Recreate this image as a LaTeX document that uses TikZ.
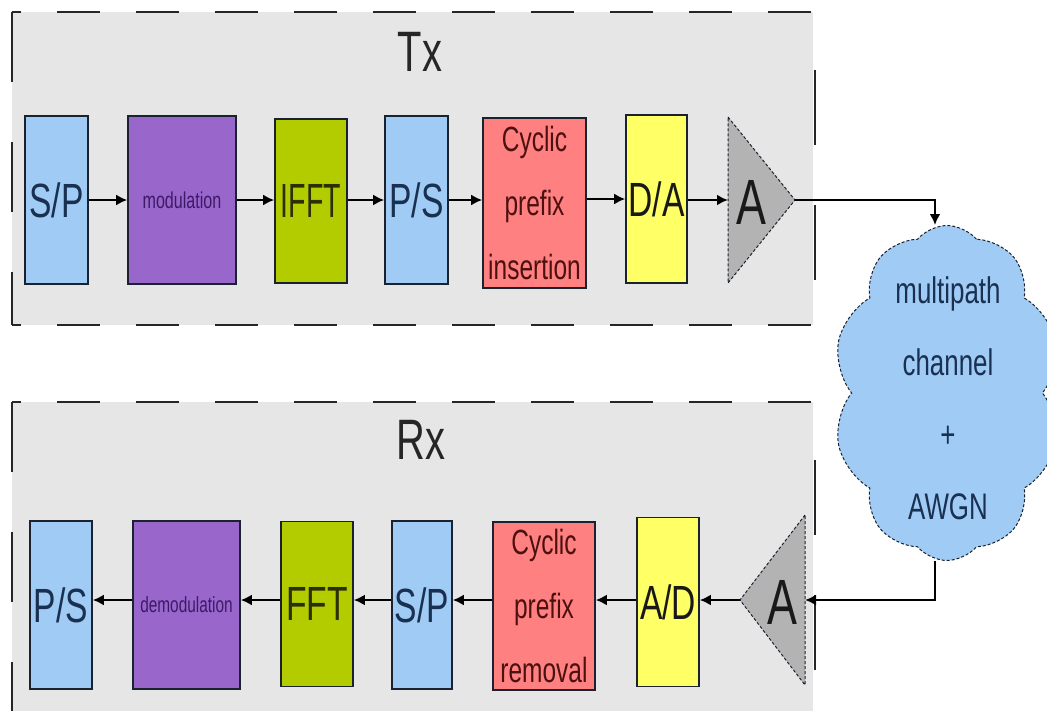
\documentclass[tikz,border=0pt]{standalone}
\usepackage{graphicx}
\usepackage{fontspec}
\setmainfont[FakeStretch=0.7]{Liberation Sans}
\usetikzlibrary{shapes.symbols,arrows.meta}

\definecolor{panel}{HTML}{E6E6E6}
\definecolor{skyblue}{HTML}{9FCBF5}
\definecolor{violet}{HTML}{9966CC}
\definecolor{lime}{HTML}{B3CC00}
\definecolor{salmon}{HTML}{FF8080}
\definecolor{lemon}{HTML}{FFFF66}
\definecolor{ampgray}{HTML}{B3B3B3}
\definecolor{navy}{HTML}{1A3050}
\definecolor{plum}{HTML}{3D1A66}
\definecolor{olive}{HTML}{2A3000}
\definecolor{maroon}{HTML}{4D1010}
\definecolor{edge}{HTML}{1A2230}

\tikzset{
  block/.style={draw=edge, line width=1.6pt, inner sep=0pt, minimum height=168pt},
  big/.style={font=\fontsize{48}{50}\selectfont},
  small/.style={font=\fontsize{23}{25}\selectfont},
  cptext/.style={font=\fontsize{35}{64}\selectfont, align=center, text=maroon},
  title/.style={font=\fontsize{57}{60}\selectfont, text=black!85},
  amplabel/.style={font=\fontsize{64}{66}\selectfont, text=black!90},
  amptri/.style={fill=ampgray, draw=edge, line width=1pt, densely dashed},
  wire/.style={line width=2.2pt, draw=black, -{Latex[length=11pt,width=11pt]}},
  hborder/.style={line width=2.8pt, draw=black!85, dash pattern=on 43pt off 36pt, dash phase=34pt},
  vborder/.style={line width=2.8pt, draw=black!85, dash pattern=on 70pt off 60pt},
  vborderR/.style={line width=2.8pt, draw=black!85, dash pattern=on 75pt off 60pt, dash phase=77pt},
}

\begin{document}
\begin{tikzpicture}[x=1pt, y=-1pt]
\useasboundingbox (0,0) rectangle (1047,710);
\fill[white] (0,0) rectangle (1047,710);

% panels
\fill[panel] (12,12) rectangle (813,325);
\fill[panel] (12,402) rectangle (813,712);
\draw[hborder] (12,12) -- (815,12);
\draw[hborder] (12,325) -- (815,325);
\draw[vborder] (12,12) -- (12,325);
\draw[vborderR] (815,12) -- (815,325);
\draw[hborder] (12,402) -- (815,402);
\draw[vborder] (12,402) -- (12,712);
\draw[vborderR] (815,402) -- (815,712);

\node[title] (tx) at (420,52) {Tx};
\node[title] (rx) at (421,440) {Rx};

% transmitter chain
\node[block, fill=skyblue, minimum width=63pt, big, text=navy] (spT) at (56.5,200) {S/P};
\node[block, fill=violet, minimum width=108pt, small, text=plum] (modT) at (182,200) {modulation};
\node[block, fill=lime, minimum width=72pt, minimum height=164pt, big, text=olive] (ifftT) at (311,201) {\scalebox{0.85}[1]{IFFT}};
\node[block, fill=skyblue, minimum width=63pt, big, text=navy] (psT) at (416.5,200) {P/S};
\node[block, fill=salmon, minimum width=103pt, minimum height=170pt, cptext] (cpT) at (534.5,203) {Cyclic\\prefix\\insertion};
\node[block, fill=lemon, minimum width=61pt, big, text=black!90] (daT) at (656.5,199) {D/A};

\coordinate (ampTin) at (728,200);
\coordinate (ampTout) at (795,200);
\draw[amptri] (728,117) -- (ampTout) -- (728,283) -- cycle;
\node[amplabel] (ampT) at (751,202) {A};

% channel
\node[cloud, cloud puffs=10, cloud puff arc=100, cloud ignores aspect,
      minimum width=228pt, minimum height=335pt, inner sep=0pt,
      fill=skyblue, draw=edge, line width=1pt, densely dashed] (cloud) at (947,393) {};
\node[font=\fontsize{37}{72}\selectfont, text=navy, align=center] (chan) at (948,398)
  {multipath\\channel\\+\\AWGN};

% receiver chain
\coordinate (rxline) at (0,600);
\node[block, fill=skyblue, minimum width=62pt, big, text=navy] (psR) at (61,605) {P/S};
\node[block, fill=violet, minimum width=107pt, font=\fontsize{22}{24}\selectfont, text=plum] (demodR) at (186.5,605) {demodulation};
\node[block, fill=lime, minimum width=72pt, minimum height=165pt, big, text=olive] (fftR) at (317,604) {FFT};
\node[block, fill=skyblue, minimum width=60pt, big, text=navy] (spR) at (422,605) {S/P};
\node[block, fill=salmon, minimum width=102pt, cptext] (cpR) at (544,606) {Cyclic\\prefix\\removal};
\node[block, fill=lemon, minimum width=62pt, minimum height=169pt, big, text=black!90] (adR) at (668,602) {A/D};

\coordinate (ampRin) at (805,600);
\coordinate (ampRout) at (740,600);
\draw[amptri] (805,515) -- (ampRout) -- (805,685) -- cycle;
\node[amplabel] (ampR) at (782,602) {A};

% transmitter connectors
\draw[wire] (spT.east) -- (spT.east -| modT.west);
\draw[wire] (modT.east) -- (modT.east -| ifftT.west);
\draw[wire] (psT.west -| ifftT.east) -- (psT.west);
\draw[wire] (psT.east) -- (psT.east -| cpT.west);
\draw[wire] (daT.west -| cpT.east) -- (daT.west);
\draw[wire] (daT.east |- ampTin) -- (ampTin);
\draw[wire] (ampTout) -| ([xshift=-12pt]cloud.north);

% receiver connectors
\draw[wire] ([xshift=-12pt]cloud.south) |- (ampRin);
\draw[wire] (ampRout) -- (ampRout -| adR.east);
\draw[wire] (adR.west |- rxline) -- (cpR.east |- rxline);
\draw[wire] (cpR.west |- rxline) -- (spR.east |- rxline);
\draw[wire] (spR.west |- rxline) -- (fftR.east |- rxline);
\draw[wire] (fftR.west |- rxline) -- (demodR.east |- rxline);
\draw[wire] (demodR.west |- rxline) -- (psR.east |- rxline);
\end{tikzpicture}
\end{document}
